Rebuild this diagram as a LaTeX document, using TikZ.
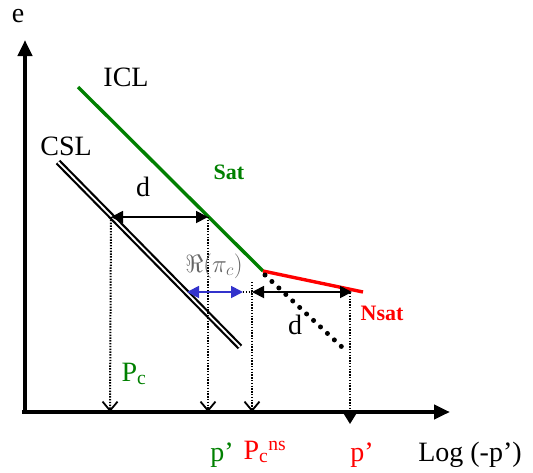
\documentclass[tikz,border=0pt]{standalone}
\usepackage{fontspec}
\setmainfont{Liberation Serif}
\usetikzlibrary{arrows.meta,calc}
\definecolor{sgreen}{RGB}{0,128,0}
\definecolor{sred}{RGB}{255,0,0}
\definecolor{sblue}{RGB}{51,51,204}
\begin{document}
\begin{tikzpicture}[x=1pt,y=-1pt,
  axis/.style={line width=4.5pt,-{Triangle[length=16pt,width=14pt]}},
  proj/.style={dash pattern=on 1.4pt off 1.4pt,line width=2pt},
  projarrow/.style={proj,-{Straight Barb[length=9pt,width=15pt,line width=1.8pt]}},
  dim/.style={line width=1.8pt,{Triangle[length=12pt,width=12pt]}-{Triangle[length=12pt,width=12pt]}},
  lbl/.style={font=\fontsize{28}{32}\selectfont,inner sep=0pt},
  boldlbl/.style={font=\fontsize{22}{26}\selectfont\bfseries,inner sep=0pt}]
\useasboundingbox (0,0) rectangle (533,472);
% points
\coordinate (origin) at (22,412);
\coordinate (ytop) at (25,40);
\coordinate (xend) at (450,412);
\coordinate (icl0) at (78,87);
\coordinate (kink) at (263,271);
\coordinate (nsat) at (363,292);
\coordinate (csl0) at (58,162);
\coordinate (csl1) at (240,347);
\coordinate (dotstart) at (265,275);
\coordinate (dotend) at (343,348);
\coordinate (dA) at (111,217);
\coordinate (dB) at (208,217);
\coordinate (dC) at (252,292);
\coordinate (dD) at (352,292);
\coordinate (bA) at (187,292);
\coordinate (bB) at (243,292);
\coordinate (a1) at (110,412);
\coordinate (a2) at (208,412);
\coordinate (a3) at (252,412);
\coordinate (a4) at (350,424);
\coordinate (t3) at (252,282);
\coordinate (t4) at (350,293);
% axes
\draw[axis] (25,414) -- (ytop);
\draw[axis] (origin) -- (xend);
% lines
\draw[sgreen,line width=3.4pt] (icl0) -- (kink);
\draw[sred,line width=3.4pt] (kink) -- (nsat);
\draw[double=white,double distance=1.8pt,line width=2.2pt] (csl0) -- (csl1);
\draw[line width=5pt,line cap=round,dash pattern=on 0pt off 9.5pt] (dotstart) -- (dotend);
% projections
\draw[projarrow] (dA) -- (a1);
\draw[projarrow] (dB) -- (a2);
\draw[projarrow] (t3) -- (a3);
\draw[proj,-{Triangle[length=11pt,width=13pt]}] (t4) -- (a4);
\draw[proj] (bB) -- (dC);
% dimension arrows
\draw[dim] (dA) -- (dB);
\draw[dim] (dC) -- (dD);
\draw[dim,sblue] (bA) -- (bB);
% labels
\node[lbl] (le) at (18,16) {e};
\node[lbl] (licl) at (126,77) {ICL};
\node[lbl] (lcsl) at (66,146) {CSL};
\node[boldlbl,text=sgreen] (lsat) at (229,172) {Sat};
\node[boldlbl,text=sred] (lnsat) at (382,313) {Nsat};
\node[lbl] (ld1) at (143,187) {d};
\node[lbl] (ld2) at (295,325) {d};
\node[inner sep=0pt,text=black!60,font=\fontsize{23}{26}\selectfont] (lre) at (214,266) {$\Re(\pi_c)$};
\node[lbl,text=sgreen] (lpc) at (134,374) {P\textsubscript{c}};
\node[lbl,text=sgreen] (lp1) at (222,455) {p’};
\node[lbl,text=sred] (lpcns) at (265,452) {P\textsubscript{c}\textsuperscript{ns}};
\node[lbl,text=sred] (lp2) at (362,455) {p’};
\node[lbl] (llog) at (470,455) {Log (-p’)};
\end{tikzpicture}
\end{document}
